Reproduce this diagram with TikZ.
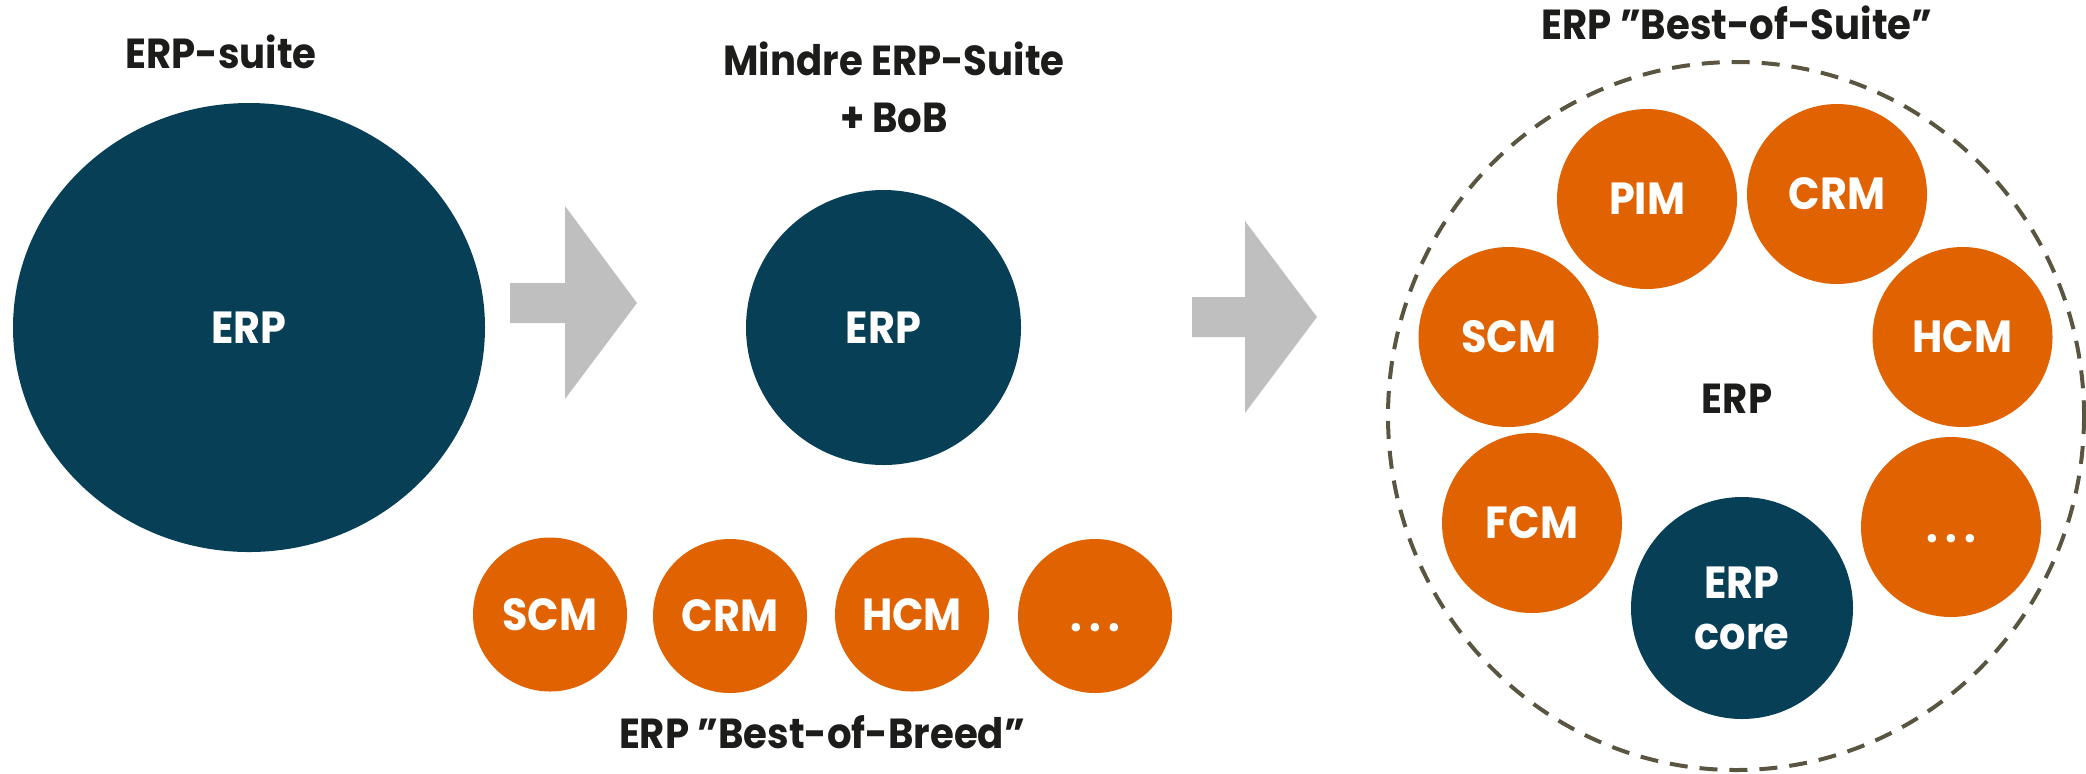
\documentclass[tikz,border=0pt]{standalone}
\usepackage{fontspec}
\setmainfont{Poppins}[FakeStretch=0.92]
\usetikzlibrary{shapes.geometric}
\definecolor{erpteal}{RGB}{7,64,86}
\definecolor{boborange}{RGB}{224,98,0}
\definecolor{arrowgray}{RGB}{191,191,191}
\definecolor{dashcol}{RGB}{89,85,64}
\definecolor{txt}{RGB}{28,28,26}
\begin{document}
\begin{tikzpicture}[x=0.5pt,y=-0.5pt,
  lbl/.style={font=\bfseries\fontsize{22.5}{25.5}\selectfont, text=white, align=center},
  ttl/.style={font=\bfseries\fontsize{21}{28.5}\selectfont, text=txt, align=center},
  tealc/.style={circle, fill=erpteal, inner sep=0pt, lbl},
  orc/.style={circle, fill=boborange, inner sep=0pt, lbl, minimum size=#1},
  blockarrow/.style={fill=arrowgray, draw=none}]
\useasboundingbox (0,0) rectangle (2086,773);
% left
\node[ttl, anchor=base] (t1) at (221,68) {ERP-suite};
\node[ellipse, fill=erpteal, inner sep=0pt, minimum width=236pt, minimum height=224.5pt, lbl] (big) at (249,327.5) {ERP};
\fill[blockarrow] (510,283) -- (565,283) -- (565,206) -- (637,303) -- (565,399) -- (565,323) -- (510,323) -- cycle;
% middle
\node[ttl, anchor=base] (t2) at (894,132) {Mindre ERP-Suite\\+ BoB};
\node[tealc, minimum size=137.5pt] (mid) at (883.5,327.5) {ERP};
\node[orc=77pt] (b1) at (550,614.5) {SCM};
\node[orc=77pt] (b2) at (730,616) {CRM};
\node[orc=77pt] (b3) at (912,614.5) {HCM};
\node[orc=77pt] (b4) at (1095,616) {\vphantom{E}.\,.\,.};
\node[ttl, anchor=base] (t3) at (822,748) {ERP ”Best-of-Breed”};
\fill[blockarrow] (1192,297) -- (1245,297) -- (1245,221) -- (1317,317) -- (1245,413) -- (1245,337) -- (1192,337) -- cycle;
% right
\node[ttl, anchor=base] (t4) at (1737,39) {ERP ”Best-of-Suite”};
\draw[dashcol, line width=2pt, dash pattern=on 9pt off 6pt] (1736,416) ellipse [x radius=348, y radius=354];
\node[ttl] (erp) at (1737,399) {ERP};
\node[orc=90pt] (pim) at (1647,199) {PIM};
\node[orc=90pt] (crm) at (1837,194) {CRM};
\node[orc=90pt] (scm) at (1508.5,337) {SCM};
\node[orc=90pt] (hcm) at (1962.5,337) {HCM};
\node[orc=90pt] (fcm) at (1532,523) {FCM};
\node[orc=90pt] (etc) at (1951,527) {\vphantom{E}.\,.\,.};
\node[tealc, minimum size=111pt] (core) at (1742,608) {ERP\\core};
\end{tikzpicture}
\end{document}
